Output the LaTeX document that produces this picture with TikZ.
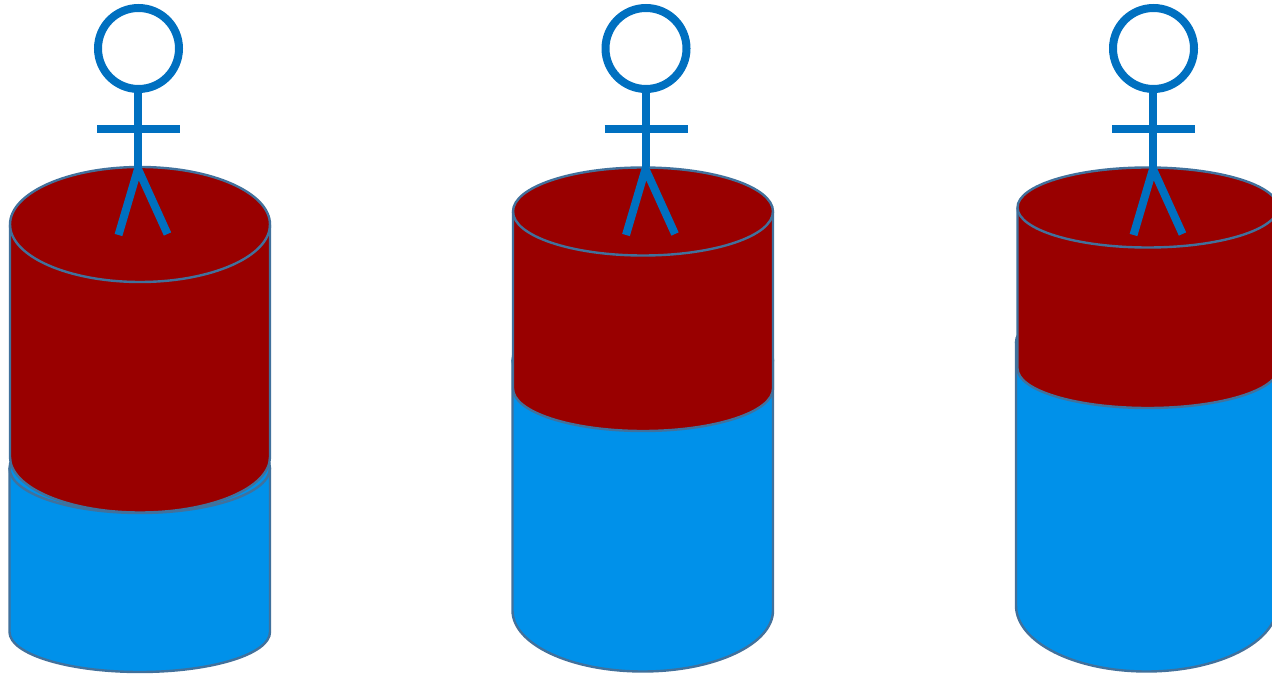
\documentclass[tikz,border=0pt]{standalone}
\definecolor{cylblue}{HTML}{0091EA}
\definecolor{cylred}{HTML}{990000}
\definecolor{cyledge}{HTML}{41719C}
\definecolor{figblue}{HTML}{0070C0}
\tikzset{
  bluebody/.style={fill=cylblue,draw=cyledge,line width=2.4pt},
  redbody/.style={fill=cylred,draw=cyledge,line width=2.4pt},
  rimline/.style={draw=cyledge,line width=2.4pt},
  figline/.style={draw=figblue,line width=8pt},
}
% #1 left, #2 right, #3 top-centre y, #4 top ry, #5 side-bottom y, #6 bottom ry, #7 style
\newcommand{\cylbody}[7]{%
  \pgfmathsetmacro{\rx}{(#2-#1)/2}%
  \path[#7] (#1,#3) arc[start angle=180,end angle=360,x radius=\rx,y radius=#4]
     -- (#2,#5) arc[start angle=0,end angle=180,x radius=\rx,y radius=#6] -- cycle;
  \path[rimline] (#1,#3) arc[start angle=180,end angle=0,x radius=\rx,y radius=#4];
}
\newcommand{\stickfig}[1]{%
  \begin{scope}[xshift=#1pt]
    \draw[figline] (138.5,48.5) circle[radius=40.5];
    \draw[figline] (138,90) -- (138,167);
    \draw[figline] (97,129) -- (180,129);
    \draw[figline] (118.5,235) -- (138,169) -- (167.5,234);
  \end{scope}
}
\begin{document}
\begin{tikzpicture}[x=1pt,y=-1pt]
  \useasboundingbox (0,0) rectangle (1272,676);
  \clip (0,0) rectangle (1272,676);
  % left cylinder
  \cylbody{9.5}{270}{468}{45}{632}{40}{bluebody}
  \cylbody{10}{270}{224.5}{57.5}{457}{55.5}{redbody}
  % centre cylinder
  \cylbody{512.5}{773}{360}{42}{610.5}{61}{bluebody}
  \cylbody{513}{773}{211.5}{44}{388.5}{42.5}{redbody}
  % right cylinder
  \cylbody{1016}{1277}{342}{40}{605.5}{66}{bluebody}
  \cylbody{1017.5}{1278}{207.5}{40}{368.5}{39.5}{redbody}
  % figures
  \stickfig{0}
  \stickfig{507.5}
  \stickfig{1015}
\end{tikzpicture}
\end{document}
